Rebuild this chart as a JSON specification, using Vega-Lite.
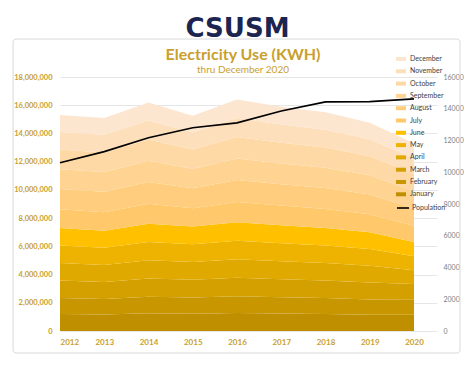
{
  "$schema": "https://vega.github.io/schema/vega-lite/v6.json",
  "width": 377,
  "height": 254,
  "autosize": {"type": "none"},
  "padding": {"left": 60, "top": 77, "right": 37, "bottom": 35},
  "background": "white",
  "config": {"font": "Lato", "view": {"stroke": null}},
  "title": {
    "text": "CSUSM",
    "anchor": "middle",
    "frame": "group",
    "dx": -11,
    "dy": 3,
    "offset": 0,
    "font": "DejaVu Sans",
    "fontSize": 26,
    "fontWeight": "bold",
    "color": "#1B2550"
  },
  "datasets": {
    "energy": [
      {"year": 2012, "m": 1, "month": "January", "kwh": 1205000},
      {"year": 2012, "m": 2, "month": "February", "kwh": 1132000},
      {"year": 2012, "m": 3, "month": "March", "kwh": 1241000},
      {"year": 2012, "m": 4, "month": "April", "kwh": 1241000},
      {"year": 2012, "m": 5, "month": "May", "kwh": 1241000},
      {"year": 2012, "m": 6, "month": "June", "kwh": 1240000},
      {"year": 2012, "m": 7, "month": "July", "kwh": 1320000},
      {"year": 2012, "m": 8, "month": "August", "kwh": 1440000},
      {"year": 2012, "m": 9, "month": "September", "kwh": 1400000},
      {"year": 2012, "m": 10, "month": "October", "kwh": 1400000},
      {"year": 2012, "m": 11, "month": "November", "kwh": 1240000},
      {"year": 2012, "m": 12, "month": "December", "kwh": 1200000},
      {"year": 2013, "m": 1, "month": "January", "kwh": 1172000},
      {"year": 2013, "m": 2, "month": "February", "kwh": 1100000},
      {"year": 2013, "m": 3, "month": "March", "kwh": 1207000},
      {"year": 2013, "m": 4, "month": "April", "kwh": 1207000},
      {"year": 2013, "m": 5, "month": "May", "kwh": 1207000},
      {"year": 2013, "m": 6, "month": "June", "kwh": 1207000},
      {"year": 2013, "m": 7, "month": "July", "kwh": 1310000},
      {"year": 2013, "m": 8, "month": "August", "kwh": 1450000},
      {"year": 2013, "m": 9, "month": "September", "kwh": 1400000},
      {"year": 2013, "m": 10, "month": "October", "kwh": 1390000},
      {"year": 2013, "m": 11, "month": "November", "kwh": 1250000},
      {"year": 2013, "m": 12, "month": "December", "kwh": 1200000},
      {"year": 2014, "m": 1, "month": "January", "kwh": 1254000},
      {"year": 2014, "m": 2, "month": "February", "kwh": 1178000},
      {"year": 2014, "m": 3, "month": "March", "kwh": 1292000},
      {"year": 2014, "m": 4, "month": "April", "kwh": 1292000},
      {"year": 2014, "m": 5, "month": "May", "kwh": 1292000},
      {"year": 2014, "m": 6, "month": "June", "kwh": 1292000},
      {"year": 2014, "m": 7, "month": "July", "kwh": 1419000},
      {"year": 2014, "m": 8, "month": "August", "kwh": 1548000},
      {"year": 2014, "m": 9, "month": "September", "kwh": 1505000},
      {"year": 2014, "m": 10, "month": "October", "kwh": 1505000},
      {"year": 2014, "m": 11, "month": "November", "kwh": 1333000},
      {"year": 2014, "m": 12, "month": "December", "kwh": 1290000},
      {"year": 2015, "m": 1, "month": "January", "kwh": 1221000},
      {"year": 2015, "m": 2, "month": "February", "kwh": 1147000},
      {"year": 2015, "m": 3, "month": "March", "kwh": 1258000},
      {"year": 2015, "m": 4, "month": "April", "kwh": 1258000},
      {"year": 2015, "m": 5, "month": "May", "kwh": 1258000},
      {"year": 2015, "m": 6, "month": "June", "kwh": 1258000},
      {"year": 2015, "m": 7, "month": "July", "kwh": 1295000},
      {"year": 2015, "m": 8, "month": "August", "kwh": 1413000},
      {"year": 2015, "m": 9, "month": "September", "kwh": 1374000},
      {"year": 2015, "m": 10, "month": "October", "kwh": 1374000},
      {"year": 2015, "m": 11, "month": "November", "kwh": 1217000},
      {"year": 2015, "m": 12, "month": "December", "kwh": 1177000},
      {"year": 2016, "m": 1, "month": "January", "kwh": 1270000},
      {"year": 2016, "m": 2, "month": "February", "kwh": 1194000},
      {"year": 2016, "m": 3, "month": "March", "kwh": 1309000},
      {"year": 2016, "m": 4, "month": "April", "kwh": 1309000},
      {"year": 2016, "m": 5, "month": "May", "kwh": 1309000},
      {"year": 2016, "m": 6, "month": "June", "kwh": 1309000},
      {"year": 2016, "m": 7, "month": "July", "kwh": 1436000},
      {"year": 2016, "m": 8, "month": "August", "kwh": 1566000},
      {"year": 2016, "m": 9, "month": "September", "kwh": 1522000},
      {"year": 2016, "m": 10, "month": "October", "kwh": 1522000},
      {"year": 2016, "m": 11, "month": "November", "kwh": 1349000},
      {"year": 2016, "m": 12, "month": "December", "kwh": 1305000},
      {"year": 2017, "m": 1, "month": "January", "kwh": 1238000},
      {"year": 2017, "m": 2, "month": "February", "kwh": 1162000},
      {"year": 2017, "m": 3, "month": "March", "kwh": 1275000},
      {"year": 2017, "m": 4, "month": "April", "kwh": 1275000},
      {"year": 2017, "m": 5, "month": "May", "kwh": 1275000},
      {"year": 2017, "m": 6, "month": "June", "kwh": 1275000},
      {"year": 2017, "m": 7, "month": "July", "kwh": 1386000},
      {"year": 2017, "m": 8, "month": "August", "kwh": 1512000},
      {"year": 2017, "m": 9, "month": "September", "kwh": 1470000},
      {"year": 2017, "m": 10, "month": "October", "kwh": 1470000},
      {"year": 2017, "m": 11, "month": "November", "kwh": 1302000},
      {"year": 2017, "m": 12, "month": "December", "kwh": 1260000},
      {"year": 2018, "m": 1, "month": "January", "kwh": 1205000},
      {"year": 2018, "m": 2, "month": "February", "kwh": 1132000},
      {"year": 2018, "m": 3, "month": "March", "kwh": 1241000},
      {"year": 2018, "m": 4, "month": "April", "kwh": 1241000},
      {"year": 2018, "m": 5, "month": "May", "kwh": 1241000},
      {"year": 2018, "m": 6, "month": "June", "kwh": 1240000},
      {"year": 2018, "m": 7, "month": "July", "kwh": 1353000},
      {"year": 2018, "m": 8, "month": "August", "kwh": 1476000},
      {"year": 2018, "m": 9, "month": "September", "kwh": 1435000},
      {"year": 2018, "m": 10, "month": "October", "kwh": 1435000},
      {"year": 2018, "m": 11, "month": "November", "kwh": 1271000},
      {"year": 2018, "m": 12, "month": "December", "kwh": 1230000},
      {"year": 2019, "m": 1, "month": "January", "kwh": 1155000},
      {"year": 2019, "m": 2, "month": "February", "kwh": 1085000},
      {"year": 2019, "m": 3, "month": "March", "kwh": 1190000},
      {"year": 2019, "m": 4, "month": "April", "kwh": 1190000},
      {"year": 2019, "m": 5, "month": "May", "kwh": 1190000},
      {"year": 2019, "m": 6, "month": "June", "kwh": 1190000},
      {"year": 2019, "m": 7, "month": "July", "kwh": 1279000},
      {"year": 2019, "m": 8, "month": "August", "kwh": 1395000},
      {"year": 2019, "m": 9, "month": "September", "kwh": 1356000},
      {"year": 2019, "m": 10, "month": "October", "kwh": 1356000},
      {"year": 2019, "m": 11, "month": "November", "kwh": 1201000},
      {"year": 2019, "m": 12, "month": "December", "kwh": 1163000},
      {"year": 2020, "m": 1, "month": "January", "kwh": 1150000},
      {"year": 2020, "m": 2, "month": "February", "kwh": 1100000},
      {"year": 2020, "m": 3, "month": "March", "kwh": 1080000},
      {"year": 2020, "m": 4, "month": "April", "kwh": 980000},
      {"year": 2020, "m": 5, "month": "May", "kwh": 990000},
      {"year": 2020, "m": 6, "month": "June", "kwh": 1000000},
      {"year": 2020, "m": 7, "month": "July", "kwh": 1150000},
      {"year": 2020, "m": 8, "month": "August", "kwh": 1250000},
      {"year": 2020, "m": 9, "month": "September", "kwh": 1230000},
      {"year": 2020, "m": 10, "month": "October", "kwh": 1220000},
      {"year": 2020, "m": 11, "month": "November", "kwh": 1100000},
      {"year": 2020, "m": 12, "month": "December", "kwh": 1050000}
    ],
    "pop": [
      {"year": 2012, "population": 10600},
      {"year": 2013, "population": 11300},
      {"year": 2014, "population": 12170},
      {"year": 2015, "population": 12800},
      {"year": 2016, "population": 13110},
      {"year": 2017, "population": 13860},
      {"year": 2018, "population": 14430},
      {"year": 2019, "population": 14450},
      {"year": 2020, "population": 14620}
    ],
    "frame": [{"label": "frame"}],
    "heading": [{"label": "Electricity Use (KWH)"}],
    "subheading": [{"label": "thru December 2020"}]
  },
  "layer": [
    {
      "data": {"name": "energy"},
      "mark": {"type": "area", "interpolate": "linear"},
      "encoding": {
        "x": {
          "field": "year",
          "type": "quantitative",
          "scale": {"domain": [2012, 2020.52], "nice": false, "zero": false},
          "axis": {
            "title": null,
            "values": [2012, 2013, 2014, 2015, 2016, 2017, 2018, 2019, 2020],
            "format": "d",
            "grid": false,
            "domain": false,
            "ticks": false,
            "labelFont": "Lato",
            "labelFontSize": 8,
            "labelFontWeight": "bold",
            "labelColor": "#C9A02C",
            "labelPadding": 7,
            "labelOverlap": false
          }
        },
        "y": {
          "field": "kwh",
          "type": "quantitative",
          "aggregate": "sum",
          "stack": "zero",
          "scale": {"domain": [0, 18000000], "nice": false},
          "axis": {
            "orient": "left",
            "title": null,
            "values": [0, 2000000, 4000000, 6000000, 8000000, 10000000, 12000000, 14000000, 16000000, 18000000],
            "format": ",d",
            "grid": true,
            "gridColor": "#E6E6E6",
            "gridWidth": 1,
            "domain": false,
            "ticks": false,
            "labelFont": "Lato",
            "labelFontSize": 7.5,
            "labelFontWeight": "bold",
            "labelColor": "#C9A02C",
            "labelPadding": 8,
            "labelOverlap": false,
            "labelBound": false
          }
        },
        "order": {"field": "m", "type": "quantitative", "sort": "ascending"},
        "color": {
          "field": "month",
          "type": "nominal",
          "scale": {
            "domain": ["December", "November", "October", "September", "August", "July", "June", "May", "April", "March", "February", "January"],
            "range": ["#FCE6D0", "#FDDFBB", "#FED9A5", "#FFD391", "#FFCD7D", "#FFC86A", "#FFC000", "#EDB300", "#DFA900", "#D3A000", "#C89700", "#BF8F00"]
          },
          "legend": {
            "orient": "none",
            "legendX": 336,
            "legendY": -23,
            "title": null,
            "padding": 0,
            "symbolType": "M-1,-0.4H1V0.4H-1Z",
            "symbolSize": 100,
            "symbolStrokeWidth": 0,
            "labelFont": "Lato",
            "labelFontSize": 7,
            "labelColor": "#404040",
            "labelOffset": 4,
            "rowPadding": 4.3
          }
        }
      }
    },
    {
      "data": {"name": "frame"},
      "mark": {"type": "rect", "fill": null, "stroke": "#D9D9D9", "strokeWidth": 1, "cornerRadius": 3},
      "encoding": {
        "x": {"datum": 2010.94, "type": "quantitative"},
        "x2": {"datum": 2021.04},
        "y": {"datum": 20690000, "type": "quantitative", "scale": {"domain": [0, 18000000], "nice": false}, "axis": null},
        "y2": {"datum": -1560000}
      }
    },
    {
      "data": {"name": "heading"},
      "mark": {"type": "text", "font": "Lato", "fontSize": 16, "fontWeight": "bold", "color": "#C9A02C", "align": "center", "baseline": "alphabetic"},
      "encoding": {
        "x": {"datum": 2016.136, "type": "quantitative"},
        "y": {"datum": 19205000, "type": "quantitative", "scale": {"domain": [0, 18000000], "nice": false}, "axis": null},
        "text": {"field": "label"}
      }
    },
    {
      "data": {"name": "subheading"},
      "mark": {"type": "text", "font": "Lato", "fontSize": 10, "color": "#C9A02C", "align": "center", "baseline": "alphabetic"},
      "encoding": {
        "x": {"datum": 2016.136, "type": "quantitative"},
        "y": {"datum": 18283000, "type": "quantitative", "scale": {"domain": [0, 18000000], "nice": false}, "axis": null},
        "text": {"field": "label"}
      }
    },
    {
      "data": {"name": "pop"},
      "mark": {"type": "line", "strokeWidth": 1.6, "color": "black"},
      "encoding": {
        "x": {"field": "year", "type": "quantitative"},
        "y": {
          "field": "population",
          "type": "quantitative",
          "scale": {"domain": [0, 16000], "nice": false},
          "axis": {
            "orient": "right",
            "title": null,
            "values": [0, 2000, 4000, 6000, 8000, 10000, 12000, 14000, 16000],
            "format": "d",
            "grid": false,
            "domain": false,
            "ticks": false,
            "labelFont": "Lato",
            "labelFontSize": 7,
            "labelColor": "#808080",
            "labelPadding": 6,
            "labelOverlap": false,
            "labelBound": false
          }
        },
        "stroke": {
          "datum": "Population",
          "scale": {"domain": ["Population"], "range": ["black"]},
          "legend": {
            "orient": "none",
            "legendX": 336,
            "legendY": 124,
            "title": null,
            "padding": 0,
            "symbolType": "stroke",
            "symbolSize": 144,
            "symbolStrokeWidth": 1.6,
            "labelFont": "Lato",
            "labelFontSize": 7,
            "labelColor": "#404040",
            "labelOffset": 2
          }
        }
      }
    }
  ],
  "resolve": {"scale": {"y": "independent"}}
}
